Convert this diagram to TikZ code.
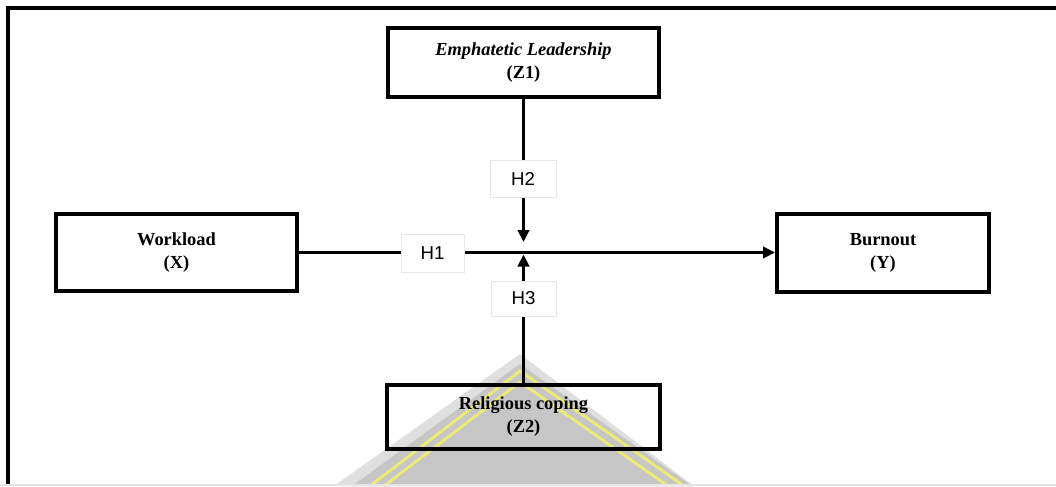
\documentclass[tikz,border=0pt]{standalone}
\usepackage{fontspec}
\setmainfont{Liberation Serif}
\newfontfamily\hfont{Liberation Sans}
\usetikzlibrary{arrows.meta}
\definecolor{wmyellow}{RGB}{238,234,120}
\begin{document}
\begin{tikzpicture}[x=0.75pt,y=-0.75pt,
  box/.style={draw=black, line width=3pt, align=center, inner sep=0pt,
    font=\fontsize{13.8pt}{17.25pt}\selectfont\bfseries},
  hlab/.style={draw=gray!18, line width=0.5pt, fill=white, inner sep=0pt,
    font=\hfont\fontsize{14pt}{16pt}\selectfont},
  conn/.style={line width=2.4pt, -{Triangle[length=9pt,width=8.5pt]}},
  plain/.style={line width=2.4pt},
  frame/.style={line width=2.4pt, line join=miter}]
\useasboundingbox (0,0) rectangle (1056,486);
% watermark
\fill[gray!25] (334,486) -- (520,354) -- (694,486) -- cycle;
\fill[gray!45] (352,486) -- (520,364) -- (692,486) -- cycle;
\draw[wmyellow, line width=2.2pt] (370,486) -- (520,371) -- (684,486);
\draw[wmyellow, line width=2.2pt] (384,486) -- (520,382) -- (668,486);
% frame
\draw[frame] (8,486) -- (8,8) -- (1056,8);
\draw[gray!20, line width=1.5pt] (0,485.2) -- (1056,485.2);
% boxes
\node[box, minimum width=203.25pt, minimum height=51.75pt] (Z1) at (523.5,62.5)
  {\textit{Emphatetic Leadership}\\(Z1)};
\node[box, minimum width=180.75pt, minimum height=57.75pt] (X) at (176.5,252.5)
  {Workload\\(X)};
\node[box, minimum width=159pt, minimum height=58.5pt] (Y) at (883,252.5)
  {Burnout\\(Y)};
\node[box, minimum width=204.75pt, minimum height=48pt] (Z2) at (523.5,417)
  {Religious coping\\(Z2)};
% connector ends
\coordinate (m2) at (523.5,242);
\coordinate (m3) at (523.5,254.5);
% connectors
\draw[conn] (X.east) -- (Y.west);
\draw[conn] (Z1.south) -- (m2);
\draw[conn] (Z2.north) -- (m3);
% hypothesis labels
\node[hlab, minimum width=47.25pt, minimum height=28.5pt] (H1) at (432.5,253) {H1};
\node[hlab, minimum width=49.5pt, minimum height=27.75pt] (H2) at (523,178.5) {H2};
\node[hlab, minimum width=48.75pt, minimum height=26.25pt] (H3) at (523.5,298.5) {H3};
\end{tikzpicture}
\end{document}
